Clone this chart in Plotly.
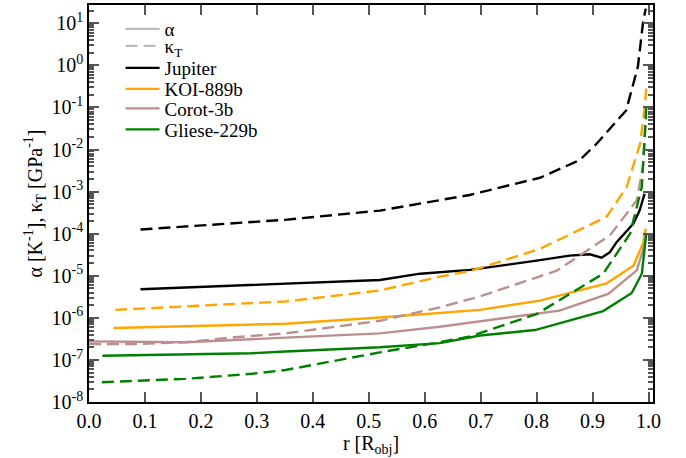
import plotly.graph_objects as go

# ---- data (x = r/R_obj, y = log10 values) ----
jup_k_x = [0.092, 0.2, 0.35, 0.52, 0.68, 0.806, 0.877, 0.908, 0.937, 0.96, 0.981, 0.990, 0.995]
jup_k_y = [-3.90, -3.80, -3.67, -3.45, -3.08, -2.67, -2.25, -1.85, -1.42, -1.07, -0.03, 1.0, 1.35]
jup_a_x = [0.092, 0.35, 0.52, 0.592, 0.681, 0.80, 0.859, 0.895, 0.916, 0.931, 0.943, 0.973, 0.984, 0.993]
jup_a_y = [-5.32, -5.18, -5.10, -4.95, -4.86, -4.64, -4.52, -4.49, -4.57, -4.44, -4.20, -3.76, -3.45, -3.05]

koi_k_x = [0.047, 0.351, 0.52, 0.627, 0.681, 0.806, 0.925, 0.961, 0.985, 0.993, 0.996]
koi_k_y = [-5.81, -5.61, -5.35, -5.02, -4.89, -4.36, -3.60, -2.89, -1.86, -1.02, -0.55]
koi_a_x = [0.044, 0.351, 0.52, 0.699, 0.806, 0.925, 0.973, 0.990, 0.995]
koi_a_y = [-6.24, -6.14, -5.99, -5.81, -5.59, -5.18, -4.76, -4.24, -3.88]

cor_k_x = [0.0, 0.083, 0.172, 0.261, 0.351, 0.52, 0.627, 0.699, 0.836, 0.931, 0.979, 0.990, 0.996]
cor_k_y = [-6.62, -6.62, -6.58, -6.46, -6.37, -6.07, -5.75, -5.49, -4.88, -4.04, -3.21, -2.41, -1.18]
cor_a_x = [0.0, 0.172, 0.351, 0.52, 0.627, 0.699, 0.841, 0.928, 0.979, 0.990, 0.996]
cor_a_y = [-6.56, -6.58, -6.47, -6.37, -6.21, -6.08, -5.83, -5.43, -4.87, -4.40, -4.0]

gli_k_x = [0.023, 0.172, 0.291, 0.351, 0.52, 0.627, 0.681, 0.80, 0.919, 0.967, 0.988, 0.996, 0.999]
gli_k_y = [-7.53, -7.45, -7.33, -7.24, -6.82, -6.58, -6.44, -5.91, -4.95, -4.0, -2.89, -0.99, -0.9]
gli_a_x = [0.024, 0.291, 0.351, 0.52, 0.627, 0.699, 0.797, 0.919, 0.970, 0.988, 0.996]
gli_a_y = [-6.90, -6.84, -6.80, -6.70, -6.60, -6.42, -6.29, -5.84, -5.41, -4.95, -4.0]

planets = ["Jupiter", "KOI-889b", "Corot-3b", "Gliese-229b"]
colors = ["#000000", "#FFA500", "#BC8F8F", "#008000"]
alpha_series = [(jup_a_x, jup_a_y), (koi_a_x, koi_a_y), (cor_a_x, cor_a_y), (gli_a_x, gli_a_y)]
kappa_series = [(jup_k_x, jup_k_y), (koi_k_x, koi_k_y), (cor_k_x, cor_k_y), (gli_k_x, gli_k_y)]

y_exponents = [-8, -7, -6, -5, -4, -3, -2, -1, 0, 1]
y_ticktext = ["10<sup>%d</sup>" % e for e in y_exponents]

FONT = "Liberation Serif"
LW = 2.4
DASH = "12px,6px"

# legend rows (pixel centre of each row in the 458-px tall picture)
legend_rows_px = [29, 46, 68, 89, 108.5, 129.5]
PLOT_TOP, PLOT_BOTTOM = 5, 402
legend_names = ["legend", "legend2", "legend3", "legend4", "legend5", "legend6"]

fig = go.Figure()

# legend-only style entries
fig.add_trace(go.Scatter(x=[None], y=[None], mode="lines", name="α", legend=legend_names[0],
                         line=dict(color="#BBBBBB", width=LW)))
fig.add_trace(go.Scatter(x=[None], y=[None], mode="lines", name="κ<sub>T</sub>", legend=legend_names[1],
                         line=dict(color="#BBBBBB", width=LW, dash=DASH)))

for i, (name, col, (ax, ay), (kx, ky)) in enumerate(zip(planets, colors, alpha_series, kappa_series)):
    fig.add_trace(go.Scatter(x=kx, y=[10 ** v for v in ky], mode="lines", showlegend=False,
                             line=dict(color=col, width=LW, dash=DASH)))
    fig.add_trace(go.Scatter(x=ax, y=[10 ** v for v in ay], mode="lines", name=name,
                             legend=legend_names[i + 2],
                             line=dict(color=col, width=LW)))

legend_layout = {}
for lname, py in zip(legend_names, legend_rows_px):
    legend_layout[lname] = dict(
        x=0.056, y=(PLOT_BOTTOM - py) / (PLOT_BOTTOM - PLOT_TOP),
        xanchor="left", yanchor="middle", bgcolor="rgba(0,0,0,0)",
        font=dict(family=FONT, size=19), itemwidth=34)

fig.update_layout(
    width=686, height=458,
    margin=dict(l=89, r=33, t=5, b=56),
    paper_bgcolor="white", plot_bgcolor="white",
    font=dict(family=FONT, size=20, color="black"),
    showlegend=True,
    xaxis=dict(range=[0, 1.008], dtick=0.1, tick0=0, tickformat=".1f",
               ticks="inside", ticklen=10, tickcolor="#555555", tickwidth=1.5,
               showline=True, linecolor="black", linewidth=1.5, mirror="ticks",
               showgrid=False, zeroline=False, automargin=False,
               title=dict(text="r [R<sub>obj</sub>]", standoff=4,
                          font=dict(family=FONT, size=20))),
    yaxis=dict(type="log", range=[-8, 1.436], tickmode="array",
               tickvals=[10.0 ** e for e in y_exponents], ticktext=y_ticktext,
               ticks="inside", ticklen=10, tickcolor="#555555", tickwidth=1.5,
               minor=dict(ticks="inside", ticklen=5, tickcolor="#555555", showgrid=False,
                          tickmode="array",
                          tickvals=[m * 10.0 ** e for e in y_exponents for m in range(2, 10)]),
               showline=True, linecolor="black", linewidth=1.5, mirror="ticks",
               showgrid=False, zeroline=False, automargin=False,
               title=dict(text="α [K<sup>-1</sup>], κ<sub>T</sub> [GPa<sup>-1</sup>]", standoff=4,
                          font=dict(family=FONT, size=20))),
    **legend_layout,
)

fig.write_html("out.html", config={"displayModeBar": False},
               post_script="document.body.style.margin='0px';")
